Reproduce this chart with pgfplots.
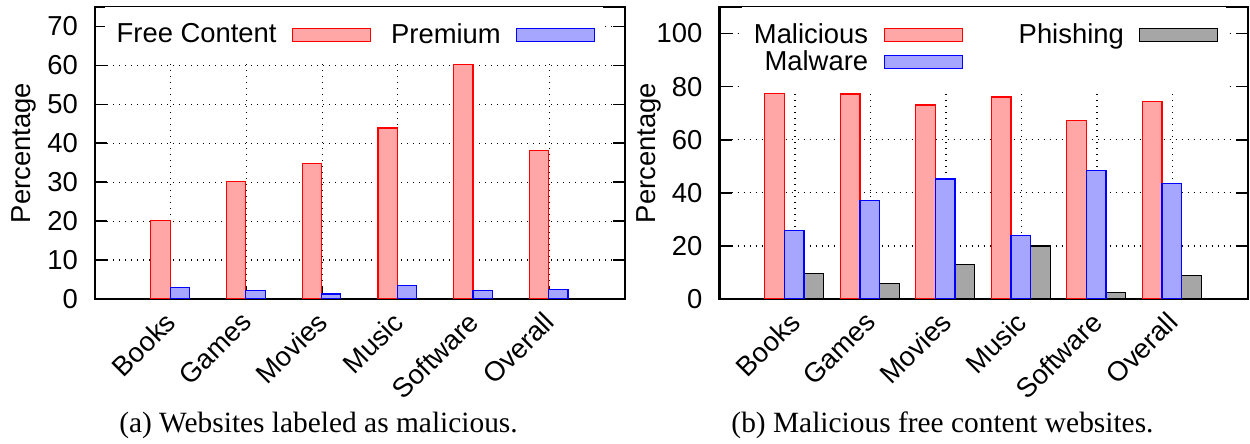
\documentclass[border=0pt]{standalone}
\usepackage{pgfplots}
\pgfplotsset{compat=1.18}
\usepackage{fontspec}
\setmainfont{Liberation Serif}
\newfontfamily\chartfont{Liberation Sans}

\definecolor{barred}{RGB}{255,166,166}
\definecolor{barblue}{RGB}{166,166,255}
\definecolor{bargray}{RGB}{166,166,166}

\newcommand{\chartsize}{\chartfont\fontsize{13.7}{15}\selectfont}

\pgfplotsset{
  gpframe/.style={
    scale only axis,
    anchor=south west,
    height=146pt,
    xmin=-1, xmax=6,
    xtick={0,...,5},
    xticklabels={Books,Games,Movies,Music,Software,Overall},
    ymin=0,
    font=\chartsize,
    ticklabel style={font=\chartsize},
    /pgf/number format/assume math mode=true,
    xticklabel style={xshift=-3.6pt, yshift=-0.7pt, rotate=45, anchor=north east},
    yticklabel style={xshift=-5pt},
    ylabel={Percentage},
    ylabel style={at={(axis description cs:-0.097,0.5)}, anchor=south},
    grid=major,
    major grid style={black, line width=0.6pt, dash pattern=on 0.7pt off 2.3pt},
    tick align=inside,
    major tick length=6pt,
    every tick/.style={black, line width=0.8pt},
    axis line style={line width=1.2pt},
    legend plot pos=right,
    legend cell align=right,
    legend image code/.code={%
      \path[draw=none, fill=none] (0pt,-3.25pt) rectangle (6pt,3.25pt);
      \draw[#1, line width=0.6pt] (6pt,-3.25pt) rectangle (45pt,3.25pt);},
  },
  redbar/.style={ybar, draw=red, fill=barred, line width=0.6pt},
  bluebar/.style={ybar, draw=blue, fill=barblue, line width=0.6pt},
  graybar/.style={ybar, draw=black, fill=bargray, line width=0.6pt},
}

\begin{document}
\begin{tikzpicture}
\useasboundingbox (0pt,0pt) rectangle (625pt,222pt);

% (a) share of websites labeled as malicious
\begin{axis}[gpframe,
  at={(47.5pt,72.5pt)}, width=265pt,
  ymax=75, ytick={0,10,...,70},
  legend columns=2,
  legend style={at={(axis description cs:0.96,1)}, anchor=north east,
    draw=none, fill=white, inner xsep=4pt, inner ysep=6pt,
    /tikz/column 2/.style={column sep=8pt}},
]
\addplot[redbar, bar width=0.255, bar shift=-0.135] coordinates {
  (0,20.1) (1,30.2) (2,34.8) (3,43.9) (4,60.3) (5,38.1)};
\addlegendentry{Free Content}
\addplot[bluebar, bar width=0.255, bar shift=0.12] coordinates {
  (0,3.0) (1,2.2) (2,1.3) (3,3.5) (4,2.2) (5,2.5)};
\addlegendentry{Premium}
\end{axis}

% (b) breakdown of malicious free content websites
\begin{axis}[gpframe,
  at={(359.75pt,72.5pt)}, width=264.25pt,
  ymax=110, ytick={0,20,...,100},
  legend columns=2,
  legend style={at={(axis description cs:0.96,1)}, anchor=north east,
    draw=none, fill=white, inner xsep=4pt, inner ysep=6pt, row sep=-2pt,
    /tikz/column 2/.style={column sep=26pt}},
]
\addplot[redbar, bar width=0.26, bar shift=-0.27] coordinates {
  (0,77.5) (1,77.2) (2,73.1) (3,76.1) (4,67.2) (5,74.3)};
\addlegendentry{Malicious}
\addplot[graybar, bar width=0.26, bar shift=0.25] coordinates {
  (0,9.7) (1,5.7) (2,12.9) (3,20.0) (4,2.4) (5,8.8)};
\addlegendentry{Phishing}
\addplot[bluebar, bar width=0.26, bar shift=-0.01] coordinates {
  (0,25.9) (1,37.2) (2,45.2) (3,24.0) (4,48.4) (5,43.5)};
\addlegendentry{Malware}
\end{axis}

\node[anchor=base, font=\fontsize{14.7}{17}\selectfont] at (159.25pt,5.5pt)
  {(a) Websites labeled as malicious.};
\node[anchor=base, font=\fontsize{14.7}{17}\selectfont] at (471.25pt,5.5pt)
  {(b) Malicious free content websites.};
\end{tikzpicture}
\end{document}
